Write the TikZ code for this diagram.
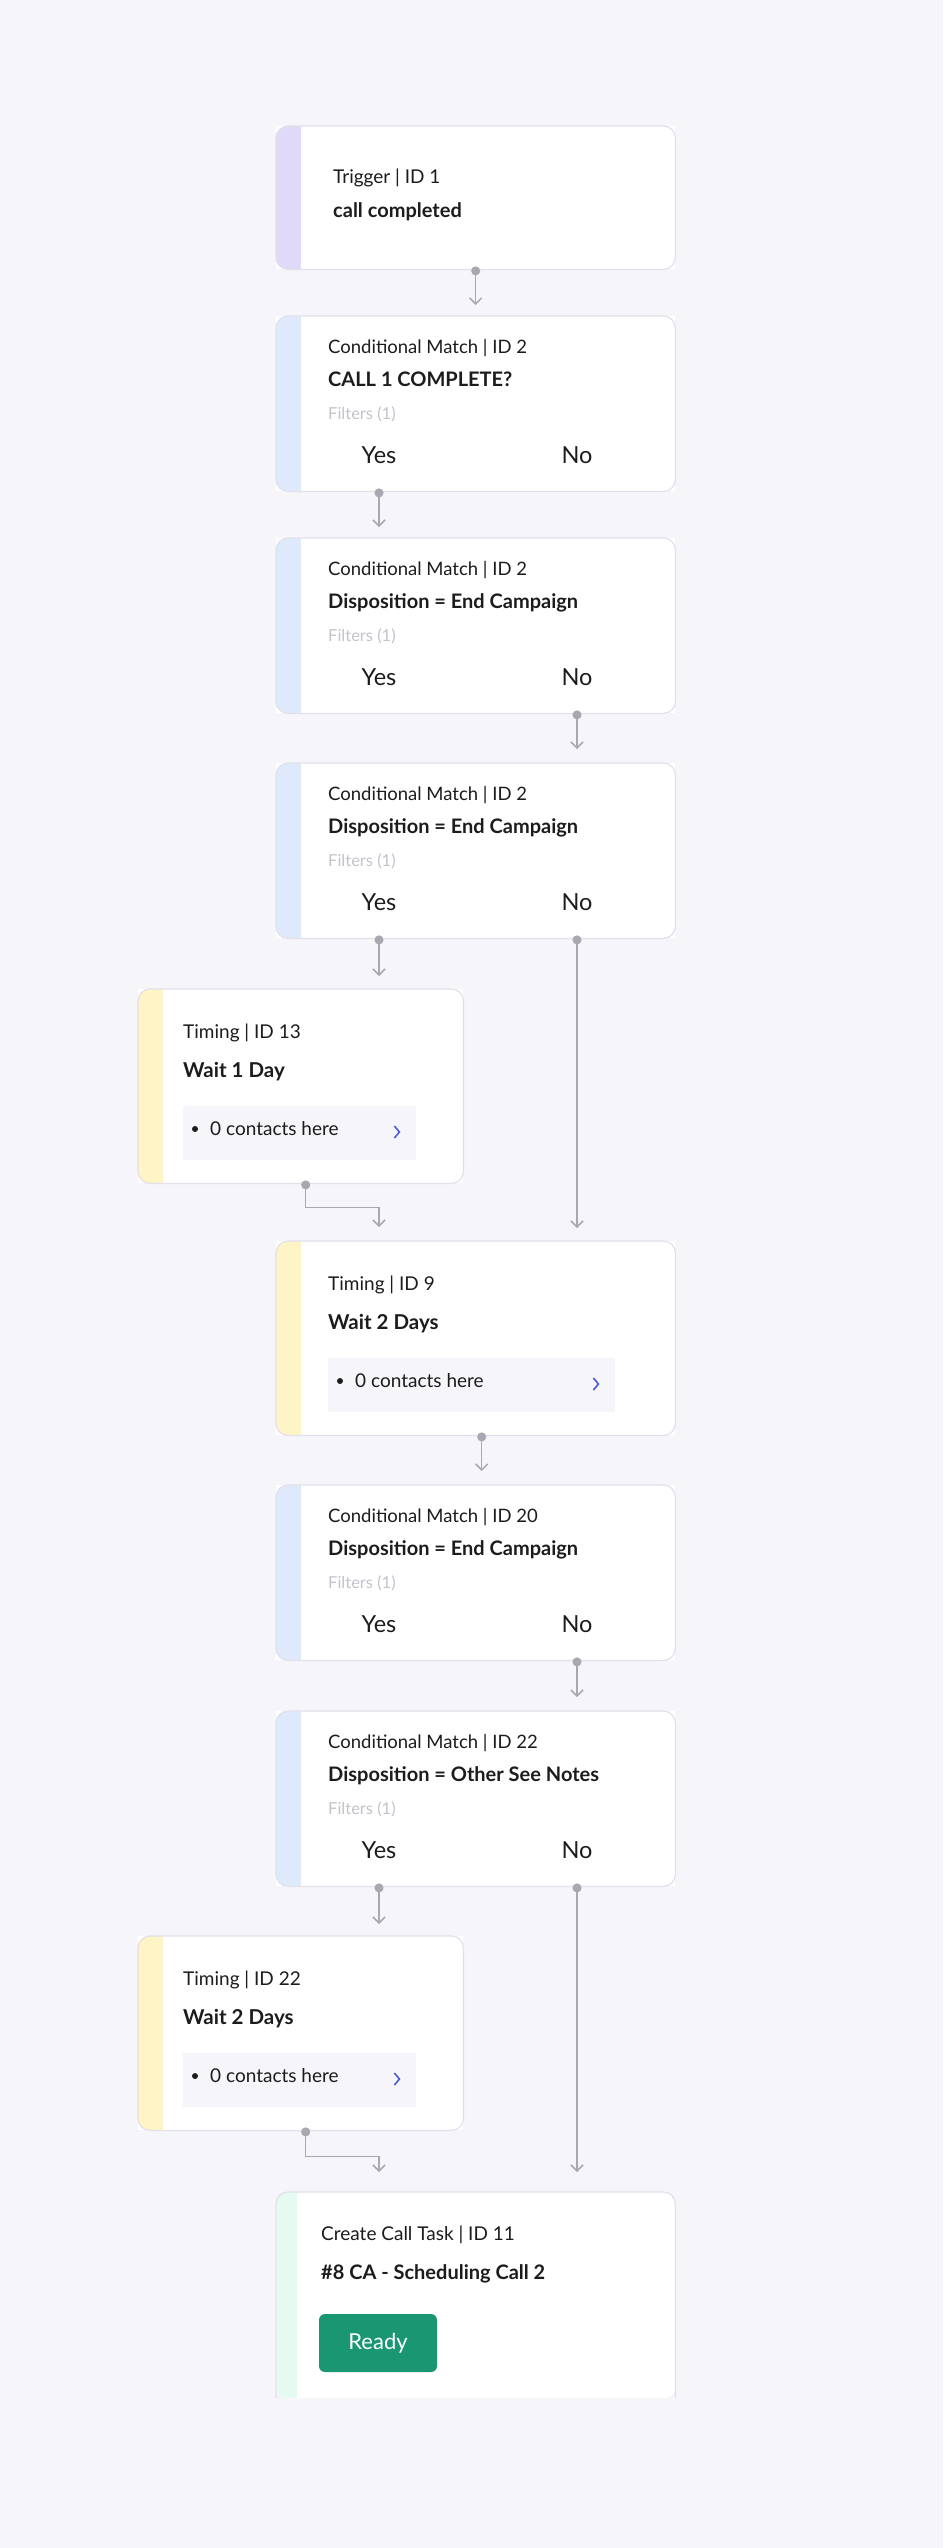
\documentclass[tikz,border=0pt]{standalone}
\usepackage{fontspec}
\setmainfont{Lato}
\usetikzlibrary{arrows.meta}

\definecolor{pagebg}{HTML}{F6F5FA}
\definecolor{cardedge}{HTML}{E2E0EB}
\definecolor{triggerlilac}{HTML}{E0D9F8}
\definecolor{matchblue}{HTML}{DFE9FC}
\definecolor{timingyellow}{HTML}{FFF4C5}
\definecolor{taskmint}{HTML}{E5FAF1}
\definecolor{flowgray}{HTML}{A9A8B0}
\definecolor{filtergray}{HTML}{C4C3CB}
\definecolor{chevblue}{HTML}{4A5BD8}
\definecolor{readygreen}{HTML}{1A9673}
\definecolor{inkblack}{HTML}{1C1C1E}
\definecolor{boxfill}{HTML}{F6F5FA}

\tikzset{
  card/.style={fill=white, inner sep=0pt, anchor=north west},
  cardline/.style={draw=cardedge, line width=1.2pt, rounded corners=12pt},
  kind/.style={font=\fontsize{18.5}{22}\selectfont, text=inkblack, inner sep=0pt, anchor=base west},
  headline/.style={font=\bfseries\fontsize{20}{24}\selectfont, text=inkblack, inner sep=0pt, anchor=base west},
  filtertext/.style={font=\fontsize{16.5}{20}\selectfont, text=filtergray, inner sep=0pt, anchor=base west},
  yesno/.style={font=\fontsize{23.5}{28}\selectfont, text=inkblack, inner sep=0pt, anchor=base},
  contactbox/.style={fill=boxfill, inner sep=0pt, anchor=north west, minimum height=54pt},
  contacttext/.style={font=\fontsize{19}{22}\selectfont, text=inkblack, inner sep=0pt, anchor=base west},
  flow/.style={draw=flowgray, line width=1.5pt, {Circle[length=9pt]}-{Straight Barb[length=6pt,width=12pt]}, shorten <=-3pt},
  readybtn/.style={fill=readygreen, rounded corners=6pt, minimum width=118pt, minimum height=58pt, text=white, font=\fontsize{22}{26}\selectfont}
}

% card with a coloured strip on its left edge
\newcommand{\flowcard}[6]{%
  \node[card, minimum width=#4pt, minimum height=#5pt] (#1) at (#2,#3) {};
  \begin{scope}
    \clip[rounded corners=12pt] (#1.north west) rectangle (#1.south east);
    \fill[#6] (#1.north west) rectangle ([xshift=25pt]#1.south west);
  \end{scope}
  \draw[cardline] (#1.north west) rectangle (#1.south east);
}

% conditional match card: name, top, id, condition
\newcommand{\matchcard}[4]{%
  \flowcard{#1}{276}{#2}{399}{175}{matchblue}
  \node[kind] (#1k) at ([xshift=52pt,yshift=-37pt]#1.north west) {Conditional Match | ID #3};
  \node[headline] (#1h) at ([xshift=52pt,yshift=-70pt]#1.north west) {#4};
  \node[filtertext] (#1f) at ([xshift=52pt,yshift=-103pt]#1.north west) {Filters (1)};
  \node[yesno] (#1yes) at ([xshift=103pt,yshift=-147pt]#1.north west) {Yes};
  \node[yesno] (#1no) at ([xshift=301pt,yshift=-147pt]#1.north west) {No};
}

% timing card: name, x, top, width, id, wait text, inset, box width
\newcommand{\timingcard}[8]{%
  \flowcard{#1}{#2}{#3}{#4}{194}{timingyellow}
  \node[kind, font=\fontsize{19}{22}\selectfont] (#1k) at ([xshift=#7pt,yshift=-49pt]#1.north west) {Timing | ID #5};
  \node[headline, font=\bfseries\fontsize{20.5}{24}\selectfont] (#1h) at ([xshift=#7pt,yshift=-88pt]#1.north west) {#6};
  \node[contactbox, minimum width=#8pt] (#1box) at ([xshift=#7pt,yshift=-117pt]#1.north west) {};
  \fill[inkblack] ([xshift=12pt,yshift=-23pt]#1box.north west) circle (3pt);
  \node[contacttext] (#1c) at ([xshift=27pt,yshift=-29pt]#1box.north west) {0 contacts here};
  \draw[chevblue, line width=1.6pt] ([xshift=-22pt,yshift=-20pt]#1box.north east) -- ++(5,6) -- ++(-5,6);
}

\begin{document}
\begin{tikzpicture}[x=1pt, y=-1pt]
  \fill[pagebg] (0,0) rectangle (943,2548);
  \useasboundingbox (0,0) rectangle (943,2548);

  % trigger
  \flowcard{A}{276}{126}{399}{143}{triggerlilac}
  \node[kind, font=\fontsize{19}{22}\selectfont] (Ak) at ([xshift=57pt,yshift=-57pt]A.north west) {Trigger | ID 1};
  \node[headline, font=\bfseries\fontsize{20}{24}\selectfont] (Ah) at ([xshift=57pt,yshift=-91pt]A.north west) {call completed};

  % conditions and waits
  \matchcard{B}{316}{2}{CALL 1 COMPLETE?}
  \matchcard{C}{538}{2}{Disposition = End Campaign}
  \matchcard{D}{763}{2}{Disposition = End Campaign}
  \timingcard{E}{138}{989}{325}{13}{Wait 1 Day}{45}{233}
  \timingcard{F}{276}{1241}{399}{9}{Wait 2 Days}{52}{287}
  \matchcard{G}{1485}{20}{Disposition = End Campaign}
  \matchcard{H}{1711}{22}{Disposition = Other See Notes}
  \timingcard{I}{138}{1936}{325}{22}{Wait 2 Days}{45}{233}

  % call task, cut off at the bottom
  \node[inner sep=0pt, anchor=north west, minimum width=399pt, minimum height=206pt] (J) at (276,2192) {};
  \fill[white, rounded corners=12pt] (J.south west) -- (J.north west) -- (J.north east) -- (J.south east) -- cycle;
  \begin{scope}
    \clip[rounded corners=12pt] (J.south west) -- (J.north west) -- (J.north east) -- (J.south east) -- cycle;
    \fill[taskmint] (J.north west) rectangle ([xshift=21pt]J.south west);
  \end{scope}
  \draw[cardline] (J.south west) -- (J.north west) -- (J.north east) -- (J.south east);
  \node[kind, font=\fontsize{19}{22}\selectfont] (Jk) at ([xshift=45pt,yshift=-48pt]J.north west) {Create Call Task | ID 11};
  \node[headline, font=\bfseries\fontsize{20}{24}\selectfont] (Jh) at ([xshift=45pt,yshift=-87pt]J.north west) {\#8 CA - Scheduling Call 2};
  \node[readybtn] (Jready) at ([xshift=102pt,yshift=-151pt]J.north west) {Ready};

  % connectors
  \draw[flow] (A.south) -- ([yshift=11pt]A.south |- B.north);
  \draw[flow] (Byes |- B.south) -- ([yshift=11pt]Byes |- C.north);
  \draw[flow] (Cno |- C.south) -- ([yshift=14pt]Cno |- D.north);
  \draw[flow] (Dyes |- D.south) -- ([yshift=13pt]Dyes |- E.north);
  \draw[flow] (Dno |- D.south) -- ([yshift=13pt]Dno |- F.north);
  \draw[flow] ([xshift=5pt]E.south) -- ++(0,24) -| ([yshift=14pt]Dyes |- F.north);
  \draw[flow] ([xshift=6pt]F.south) -- ([xshift=6pt,yshift=14pt]F.south |- G.north);
  \draw[flow] (Gno |- G.south) -- ([yshift=14pt]Gno |- H.north);
  \draw[flow] (Hyes |- H.south) -- ([yshift=12pt]Hyes |- I.north);
  \draw[flow] (Hno |- H.south) -- ([yshift=20pt]Hno |- J.north);
  \draw[flow] ([xshift=5pt]I.south) -- ++(0,26) -| ([yshift=20pt]Hyes |- J.north);
\end{tikzpicture}
\end{document}
